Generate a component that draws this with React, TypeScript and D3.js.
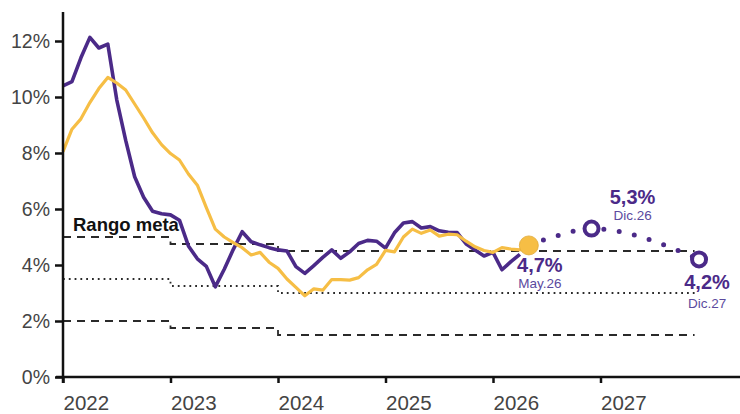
import React, { useEffect, useRef } from 'react';
import * as d3 from 'd3';

const width = 740;
const height = 414;

const years = ['2022', '2023', '2024', '2025', '2026', '2027'];
const yTicks = [0, 2, 4, 6, 8, 10, 12];
const months = ['Ene', 'Feb', 'Mar', 'Abr', 'May', 'Jun', 'Jul', 'Ago', 'Sep', 'Oct', 'Nov', 'Dic'];

// inflación total, mensual desde Ene.22
const headline = [
  10.4, 10.55, 11.4, 12.13, 11.75, 11.89, 9.9, 8.45, 7.15, 6.42, 5.92, 5.83,
  5.79, 5.6, 4.68, 4.22, 3.95, 3.22, 3.85, 4.55, 5.19, 4.83, 4.72, 4.62,
  4.54, 4.5, 3.94, 3.7, 3.98, 4.27, 4.54, 4.24, 4.47, 4.77, 4.88, 4.85,
  4.6, 5.15, 5.5, 5.55, 5.32, 5.37, 5.22, 5.17, 5.16, 4.75, 4.54, 4.32,
  4.45, 3.83, 4.12, 4.38,
];

// inflación subyacente, mensual desde Ene.22
const core = [
  8.05, 8.85, 9.22, 9.8, 10.3, 10.7, 10.5, 10.25, 9.75, 9.25, 8.72, 8.3,
  7.98, 7.75, 7.25, 6.85, 6.05, 5.28, 5.0, 4.8, 4.62, 4.36, 4.45, 4.1,
  3.88, 3.5, 3.2, 2.9, 3.15, 3.1, 3.48, 3.48, 3.46, 3.55, 3.83, 4.02,
  4.52, 4.47, 5.0, 5.28, 5.13, 5.25, 5.03, 5.1, 5.08, 4.85, 4.65, 4.52,
  4.45, 4.62, 4.57, 4.54, 4.7,
];

// proyección
const forecastDates = ['May.26', 'Ago.26', 'Dic.26', 'Dic.27'];
const forecastValues = [4.7, 5.03, 5.3, 4.2];
const labelledDates = ['May.26', 'Dic.26', 'Dic.27'];

// rango meta (meses desde Ene.22)
const bandBreaks = [0, 12, 24, 70.5];
const bandUpper = [5, 4.75, 4.5];
const bandCenter = [3.5, 3.25, 3.0];
const bandLower = [2, 1.75, 1.5];

const PURPLE = '#4B2A88';
const YELLOW = '#F6BE45';
const FONT = '"Liberation Sans", Arial, sans-serif';

const monthIndex = (label: string) => {
  const [m, yy] = label.split('.');
  return (2000 + +yy - 2022) * 12 + months.indexOf(m);
};

const fmt = (v: number) => `${v.toFixed(1).replace('.', ',')}%`;

const InflationChart: React.FC = () => {
  const svgRef = useRef<SVGSVGElement>(null);

  useEffect(() => {
    const svg = d3.select(svgRef.current);
    svg.selectAll('*').remove();

    const x = d3.scaleLinear().domain([0, 72]).range([63, 708]);
    const y = d3.scaleLinear().domain([0, 12]).range([377, 41]);

    // rango meta
    const stepLine = d3.line<[number, number]>()
      .x((d) => x(d[0]))
      .y((d) => y(d[1]))
      .curve(d3.curveStepAfter);
    const bandPts = (vals: number[]) =>
      bandBreaks.map((b, i) => [b, vals[Math.min(i, vals.length - 1)]] as [number, number]);

    [
      { vals: bandUpper, dash: '8 6', w: 1.8 },
      { vals: bandCenter, dash: '1.8 4', w: 1.8 },
      { vals: bandLower, dash: '8 6', w: 1.8 },
    ].forEach((b) => {
      svg.append('path')
        .attr('d', stepLine(bandPts(b.vals)))
        .attr('fill', 'none')
        .attr('stroke', '#2a2a2a')
        .attr('stroke-width', b.w)
        .attr('stroke-dasharray', b.dash);
    });

    svg.append('text')
      .attr('x', 73)
      .attr('y', 231)
      .attr('font-family', FONT)
      .attr('font-weight', 'bold')
      .attr('font-size', 18.5)
      .attr('fill', '#111')
      .text('Rango meta');

    const line = d3.line<number>()
      .x((_, i) => x(i))
      .y((d) => y(d));

    svg.append('path')
      .attr('d', line(headline))
      .attr('fill', 'none')
      .attr('stroke', PURPLE)
      .attr('stroke-width', 3.6)
      .attr('stroke-linejoin', 'round');

    svg.append('path')
      .attr('d', line(core))
      .attr('fill', 'none')
      .attr('stroke', YELLOW)
      .attr('stroke-width', 3.2)
      .attr('stroke-linejoin', 'round');

    // proyección punteada
    const fc = forecastDates.map((d, i) => ({ m: monthIndex(d), v: forecastValues[i], label: d }));
    const fcLine = d3.line<{ m: number; v: number }>()
      .x((d) => x(d.m))
      .y((d) => y(d.v))
      .curve(d3.curveMonotoneX);

    svg.append('path')
      .attr('d', fcLine(fc))
      .attr('fill', 'none')
      .attr('stroke', PURPLE)
      .attr('stroke-width', 5)
      .attr('stroke-linecap', 'round')
      .attr('stroke-dasharray', '0 15.5');

    const pts = fc.filter((d) => labelledDates.includes(d.label));
    pts.forEach((d, i) => {
      if (i === 0) {
        svg.append('circle')
          .attr('cx', x(d.m))
          .attr('cy', y(d.v))
          .attr('r', 9.5)
          .attr('fill', YELLOW)
          .attr('stroke', '#e0a93a')
          .attr('stroke-width', 0.8);
      } else {
        svg.append('circle')
          .attr('cx', x(d.m))
          .attr('cy', y(d.v))
          .attr('r', 7)
          .attr('fill', '#fff')
          .attr('stroke', PURPLE)
          .attr('stroke-width', 4);
      }
    });

    // etiquetas
    const labelPos = [
      { dx: 11, dy1: 27, dy2: 43 },
      { dx: 41, dy1: -25, dy2: -9 },
      { dx: 8, dy1: 30, dy2: 49 },
    ];
    pts.forEach((d, i) => {
      const p = labelPos[i];
      const g = svg.append('g')
        .attr('transform', `translate(${x(d.m) + p.dx},${y(d.v)})`)
        .attr('font-family', FONT)
        .attr('text-anchor', 'middle');
      g.append('text')
        .attr('y', p.dy1)
        .attr('font-size', 20)
        .attr('font-weight', 'bold')
        .attr('fill', PURPLE)
        .text(fmt(d.v));
      g.append('text')
        .attr('y', p.dy2)
        .attr('font-size', 13.5)
        .attr('fill', '#5B4A9E')
        .text(d.label);
    });

    // ejes
    svg.append('line')
      .attr('x1', 56).attr('x2', width)
      .attr('y1', y(0)).attr('y2', y(0))
      .attr('stroke', '#111').attr('stroke-width', 2.5);
    svg.append('line')
      .attr('x1', x(0)).attr('x2', x(0))
      .attr('y1', 12).attr('y2', y(0) + 6)
      .attr('stroke', '#111').attr('stroke-width', 2.5);

    const yAxis = svg.append('g')
      .attr('transform', `translate(${x(0)},0)`)
      .call(d3.axisLeft(y).tickValues(yTicks).tickFormat((d) => `${d}%`).tickSize(8).tickPadding(5));
    yAxis.select('.domain').remove();
    yAxis.selectAll('line').attr('stroke', '#111').attr('stroke-width', 2.5);
    yAxis.selectAll('text')
      .attr('font-family', FONT)
      .attr('font-size', 19.5)
      .attr('fill', '#444');

    const xAxis = svg.append('g')
      .attr('transform', `translate(0,${y(0)})`)
      .call(d3.axisBottom(x).tickValues(years.map((_, i) => i * 12)).tickFormat((_, i) => years[i]).tickSize(6));
    xAxis.select('.domain').remove();
    xAxis.selectAll('line').attr('stroke', '#111').attr('stroke-width', 2.5);
    xAxis.selectAll('text')
      .attr('font-family', FONT)
      .attr('font-size', 20.5)
      .attr('fill', '#444')
      .attr('text-anchor', 'start')
      .attr('y', 33)
      .attr('dy', null);

    return () => {
      svg.selectAll('*').remove();
    };
  }, []);

  return <svg ref={svgRef} width={width} height={height} style={{ display: 'block' }}></svg>;
};

export default function App() {
  return (
    <div style={{ position: 'absolute', left: 0, top: 0, background: '#fff' }}>
      <InflationChart />
    </div>
  );
}
